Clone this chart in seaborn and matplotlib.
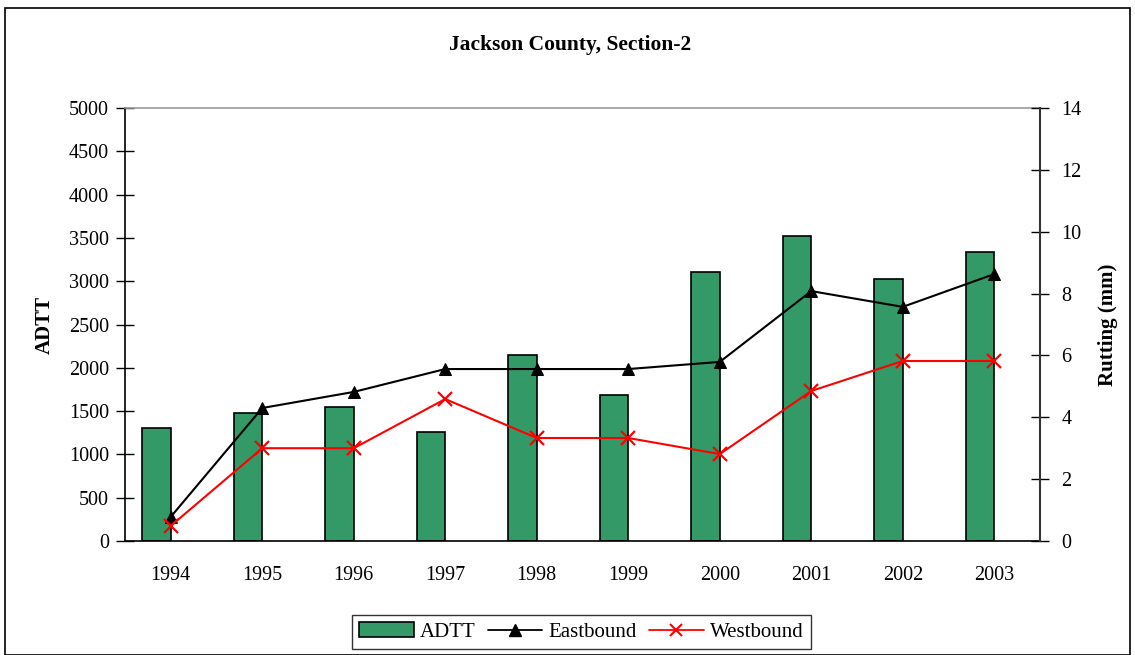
import numpy as np
import pandas as pd
import matplotlib
matplotlib.use("Agg")
import matplotlib.pyplot as plt
from matplotlib.patches import Patch, Rectangle
from matplotlib.lines import Line2D
import seaborn as sns

years = ["1994", "1995", "1996", "1997", "1998", "1999", "2000", "2001", "2002", "2003"]
adtt = [1300, 1480, 1550, 1260, 2150, 1690, 3110, 3520, 3030, 3340]
eastbound = [0.78, 4.3, 4.82, 5.56, 5.56, 5.56, 5.79, 8.08, 7.57, 8.63]
westbound = [0.49, 3.0, 3.0, 4.59, 3.33, 3.33, 2.81, 4.85, 5.82, 5.82]

sns.set_theme(style="white", rc={"text.color": "black", "axes.labelcolor": "black",
                                 "xtick.color": "black", "ytick.color": "black"})
plt.rcParams["font.family"] = ["Liberation Serif", "DejaVu Serif"]

fig = plt.figure(figsize=(11.35, 6.55), dpi=100)
ax = fig.add_axes([125 / 1135, 1 - 541 / 655, (1040 - 125) / 1135, (541 - 108) / 655])

# bars: Excel-style clustered column with an empty second slot
df = pd.DataFrame({
    "year": years * 2,
    "value": adtt + [np.nan] * len(years),
    "series": ["ADTT"] * len(years) + ["pad"] * len(years),
})
green = "#339966"
sns.barplot(data=df, x="year", y="value", hue="series", hue_order=["ADTT", "pad"],
            palette={"ADTT": green, "pad": green}, width=0.62, dodge=True,
            edgecolor="black", linewidth=1.2, legend=False, ax=ax, saturation=1)

ax.set_ylim(0, 5000)
ax.set_yticks(np.arange(0, 5001, 500))
ax.set_xlim(-0.5, len(years) - 0.5)
ax.set_xlabel("")
ax.set_ylabel("ADTT", fontsize=15, fontweight="bold", labelpad=10, color="black")

# x ticks: marks at category boundaries, labels at centers
ax.set_xticks(np.arange(-0.5, len(years), 1.0))
ax.set_xticklabels([])
ax.set_xticks(np.arange(len(years)), minor=True)
ax.set_xticklabels(years, minor=True, fontsize=14.5)
ax.tick_params(axis="x", which="major", direction="inout", length=13, width=1, color="black")
ax.tick_params(axis="x", which="minor", length=0, pad=18, labelcolor="black")
ax.tick_params(axis="y", direction="inout", length=13, width=1, color="black",
               labelsize=14.5, pad=5, left=True, labelcolor="black")

for s in ["left", "bottom"]:
    ax.spines[s].set_color("black")
    ax.spines[s].set_linewidth(1.2)
ax.spines["top"].set_color("#999999")
ax.spines["top"].set_linewidth(1.2)
ax.spines["right"].set_visible(False)

ax2 = ax.twinx()
x = np.arange(len(years))
sns.lineplot(x=x, y=eastbound, ax=ax2, color="black", marker="^", markersize=9,
             markeredgecolor="black", linewidth=1.5, legend=False)
sns.lineplot(x=x, y=westbound, ax=ax2, color="#ff0000", marker="x", markersize=10,
             markeredgewidth=1.6, markeredgecolor="#ff0000", linewidth=1.5, legend=False)
ax2.set_ylim(0, 14)
ax2.set_yticks(np.arange(0, 15, 2))
ax2.set_ylabel("Rutting (mm)", fontsize=15, fontweight="bold", labelpad=12, color="black")
ax2.tick_params(axis="y", direction="inout", length=13, width=1, color="black",
                labelsize=14.5, pad=9, right=True, labelcolor="black")
ax2.spines["right"].set_color("#333333")
ax2.spines["right"].set_linewidth(1.5)
for s in ["left", "top", "bottom"]:
    ax2.spines[s].set_visible(False)
ax2.grid(False)
ax.grid(False)

fig.text((445 + 695) / 2 / 1135, 1 - 45 / 655, "Jackson County, Section-2",
         ha="center", va="center", fontsize=15.5, fontweight="bold", color="black")

handles = [
    Patch(facecolor=green, edgecolor="black", linewidth=1.2),
    Line2D([], [], color="black", marker="^", markersize=8, linewidth=1.3),
    Line2D([], [], color="#ff0000", marker="x", markersize=9, markeredgewidth=1.5, linewidth=1.3),
]
leg = fig.legend(handles, ["ADTT", "Eastbound", "Westbound"], ncol=3,
                 loc="center", bbox_to_anchor=((351 + 812) / 2 / 1135, 1 - 632 / 655),
                 fontsize=15, frameon=True, fancybox=False, edgecolor="black",
                 handlelength=2.6, handletextpad=0.3, columnspacing=0.6,
                 borderpad=0.35, labelcolor="black")
leg.get_frame().set_linewidth(1.0)

fig.patches.append(Rectangle((5 / 1135, 0), (1130 - 5) / 1135, 1 - 8 / 655,
                             transform=fig.transFigure, fill=False,
                             edgecolor="black", linewidth=1.2))

fig.savefig("out.png", dpi=100)
